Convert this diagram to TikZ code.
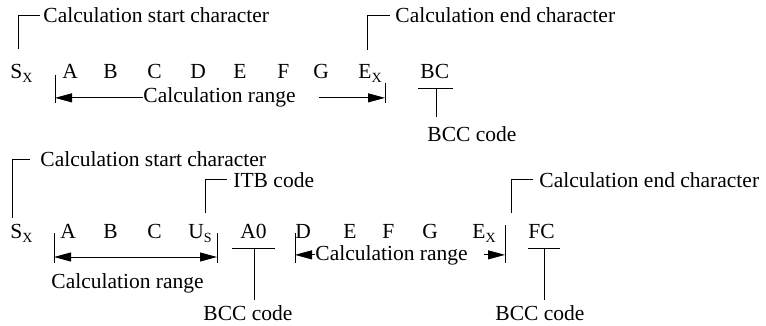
\documentclass[tikz,border=0pt]{standalone}
\usepackage{fontspec}
\setmainfont{Liberation Serif}
\usetikzlibrary{arrows.meta}
\newcommand{\lowsub}[1]{\raisebox{-4pt}{\fontsize{14}{14}\selectfont #1}}

\begin{document}
\begin{tikzpicture}[x=1pt, y=-1pt, line width=0.9pt]

  % Set default font
  \tikzset{every node/.style={font=\fontsize{21.5}{24}\selectfont, inner sep=0pt}}
  \tikzset{chr/.style={anchor=base west}}
  \tikzset{lbl/.style={anchor=base west, text=black}}
  \tikzset{toend/.style={-{Triangle[length=17pt,width=9pt]}}}
  \tikzset{bothends/.style={{Triangle[length=17pt,width=9pt]}-{Triangle[length=17pt,width=9pt]}}}

  \useasboundingbox (0,0) rectangle (766,326);

  % Frame 1: characters
  \node[chr] (sx1) at (10,79) {S\lowsub{X}};
  \node[chr] (a1)  at (62,79) {A};
  \node[chr] (b1)  at (103,79) {B};
  \node[chr] (c1)  at (147,79) {C};
  \node[chr] (d1)  at (190,79) {D};
  \node[chr] (e1)  at (233,79) {E};
  \node[chr] (f1)  at (277,79) {F};
  \node[chr] (g1)  at (313,79) {G};
  \node[chr] (ex1) at (358,79) {E\lowsub{X}};
  \node[chr] (bc1) at (420,79) {BC};

  % Frame 1: labels
  \node[lbl] (start1) at (43,23) {Calculation start character};
  \node[lbl] (end1) at (395,23) {Calculation end character};
  \node[lbl] (range1) at (143,103) {Calculation range};
  \node[lbl] (bcc1) at (427,142) {BCC code};

  % Frame 1: leaders
  \coordinate (k1) at (18,49);
  \coordinate (k2) at (367,50);
  \draw ([xshift=-3pt]start1.west) -| (k1);
  \draw ([xshift=-5pt]end1.west) -| (k2);

  % Frame 1: range
  \coordinate (t1l) at (55,75);
  \coordinate (t1r) at (385,83);
  \draw (t1l) -- ++(0,28);
  \draw (t1r) -- ++(0,20);
  \draw[toend] (range1.west) -- (range1.west -| t1l);
  \draw[toend] ([xshift=23pt]range1.east) -- (range1.east -| t1r);

  % Frame 1: BCC
  \coordinate (u1) at (436,88);
  \draw (u1 -| 418,0) -- (u1 -| 453,0);
  \draw (u1) -- (u1 |- 0,117);

  % Frame 2: characters
  \node[chr] (sx2) at (10,238) {S\lowsub{X}};
  \node[chr] (a2)  at (60,238) {A};
  \node[chr] (b2)  at (103,238) {B};
  \node[chr] (c2)  at (147,238) {C};
  \node[chr] (us2) at (188,238) {U\lowsub{S}};
  \node[chr] (a02) at (240,238) {A0};
  \node[chr] (d2)  at (295,238) {D};
  \node[chr] (e2)  at (343,238) {E};
  \node[chr] (f2)  at (382,238) {F};
  \node[chr] (g2)  at (422,238) {G};
  \node[chr] (ex2) at (472,238) {E\lowsub{X}};
  \node[chr] (fc2) at (528,238) {FC};

  % Frame 2: labels
  \node[lbl] (start2) at (40,167) {Calculation start character};
  \node[lbl] (itb2) at (233,187) {ITB code};
  \node[lbl] (end2) at (539,187) {Calculation end character};
  \node[lbl] (range2) at (51,288) {Calculation range};
  \node[lbl] (range3) at (315,260) {Calculation range};
  \node[lbl] (bcc2) at (203,320) {BCC code};
  \node[lbl] (bcc3) at (495,320) {BCC code};

  % Frame 2: leaders
  \coordinate (k3) at (12,218);
  \coordinate (k4) at (205,213);
  \coordinate (k5) at (511,213);
  \draw ([xshift=-10pt]start2.west) -| (k3);
  \draw ([xshift=-6pt]itb2.west) -| (k4);
  \draw ([xshift=-6pt]end2.west) -| (k5);

  % Frame 2: first range
  \coordinate (t2l) at (54,233);
  \coordinate (t2r) at (217,233);
  \draw (t2l) -- ++(0,30);
  \draw (t2r) -- ++(0,30);
  \draw[bothends] ([yshift=-24pt]t2l) -- ([yshift=-24pt]t2r);

  % Frame 2: second range
  \coordinate (t3l) at (295,233);
  \coordinate (t3r) at (505,225);
  \draw (t3l) -- ++(0,30);
  \draw (t3r) -- ++(0,38);
  \draw[toend] (range3.west) -- (range3.west -| t3l);
  \draw[toend] ([xshift=16pt]range3.east) -- (range3.east -| t3r);

  % Frame 2: BCC
  \coordinate (u2) at (254,248);
  \coordinate (u3) at (544,248);
  \draw (u2 -| 232,0) -- (u2 -| 275,0);
  \draw (u2) -- (u2 |- 0,300);
  \draw (u3 -| 528,0) -- (u3 -| 560,0);
  \draw (u3) -- (u3 |- 0,300);

\end{tikzpicture}
\end{document}
